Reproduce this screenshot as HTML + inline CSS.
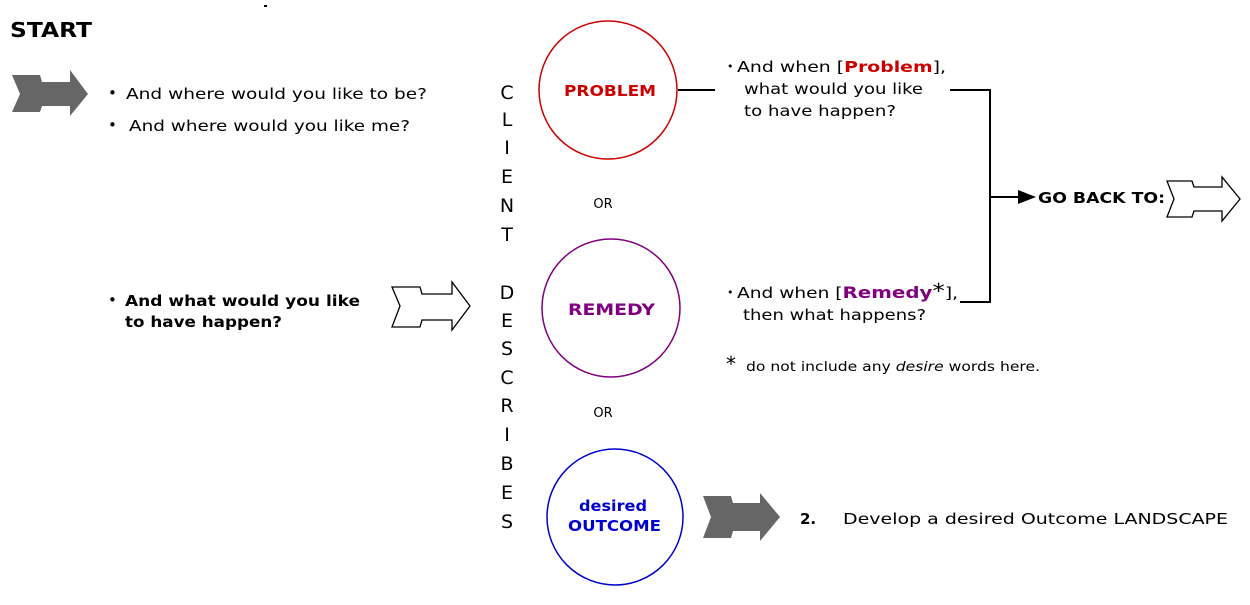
<!DOCTYPE html>
<html><head><meta charset="utf-8"><style>
body{margin:0;background:#fff}
svg text{font-family:"DejaVu Sans","Liberation Sans",sans-serif;font-size:15px;fill:#000}
</style></head><body>
<svg width="1250" height="600" viewBox="0 0 1250 600" xmlns="http://www.w3.org/2000/svg">
<text x="10" y="37" textLength="82" lengthAdjust="spacingAndGlyphs" style="font-family:'DejaVu Sans',sans-serif;font-size:20px;font-weight:bold">START</text>
<rect x="264" y="5" width="3" height="2" fill="#000"/>
<polygon points="12,75 40,75 42,82 70,82 70,70 88,94 70,116 70,106 42,106 40,112 12,112 20,94" fill="#666"/>
<polygon points="703,496 731,496 733,503 760,503 760,493 780,517 760,541 760,531 733,531 731,538 703,538 711,517" fill="#666"/>
<polygon points="392,287 420,287 422,294 452,294 452,282 470,306 452,330 452,320 422,320 420,327 392,327 400,306" fill="#fff" stroke="#000" stroke-width="1.3"/>
<polygon points="1167,181 1192,181 1194,187 1222,187 1222,177 1240,199 1222,221 1222,211 1194,211 1192,217 1167,217 1174,199" fill="#fff" stroke="#000" stroke-width="1.3"/>
<text x="108" y="98">•</text><text x="126" y="99" textLength="301" lengthAdjust="spacingAndGlyphs">And where would you like to be?</text>
<text x="108" y="130">•</text><text x="129" y="131" textLength="281" lengthAdjust="spacingAndGlyphs">And where would you like me?</text>
<text x="108" y="305">•</text><text x="125" y="306" font-weight="bold" textLength="235" lengthAdjust="spacingAndGlyphs">And what would you like</text>
<text x="125" y="327" font-weight="bold" textLength="157" lengthAdjust="spacingAndGlyphs">to have happen?</text>
<g text-anchor="middle">
<text x="507" y="99" style="font-size:19px">C</text><text x="507" y="126" style="font-size:19px">L</text><text x="507" y="154" style="font-size:19px">I</text><text x="507" y="183" style="font-size:19px">E</text><text x="507" y="212" style="font-size:19px">N</text><text x="507" y="241" style="font-size:19px">T</text>
<text x="507" y="299" style="font-size:19px">D</text><text x="507" y="327" style="font-size:19px">E</text><text x="507" y="355" style="font-size:19px">S</text><text x="507" y="384" style="font-size:19px">C</text><text x="507" y="412" style="font-size:19px">R</text><text x="507" y="441" style="font-size:19px">I</text><text x="507" y="470" style="font-size:19px">B</text><text x="507" y="499" style="font-size:19px">E</text><text x="507" y="528" style="font-size:19px">S</text>
</g>
<circle cx="608" cy="90" r="69" fill="none" stroke="#c00" stroke-width="1.5"/>
<circle cx="611" cy="308" r="69" fill="none" stroke="#800080" stroke-width="1.5"/>
<circle cx="615" cy="517" r="68" fill="none" stroke="#00c" stroke-width="1.5"/>
<text x="564" y="96" font-weight="bold" style="fill:#c00" textLength="92" lengthAdjust="spacingAndGlyphs">PROBLEM</text>
<text x="568" y="315" font-weight="bold" style="fill:#800080;font-size:16px" textLength="87" lengthAdjust="spacingAndGlyphs">REMEDY</text>
<text x="579" y="511" font-weight="bold" style="fill:#00c" textLength="68" lengthAdjust="spacingAndGlyphs">desired</text>
<text x="568" y="531" font-weight="bold" style="fill:#00c" textLength="93" lengthAdjust="spacingAndGlyphs">OUTCOME</text>
<text x="603" y="208" text-anchor="middle" style="font-size:13px">OR</text>
<text x="603" y="417" text-anchor="middle" style="font-size:13px">OR</text>
<text x="727" y="70" style="font-size:11px">•</text><text x="737" y="72" textLength="209" lengthAdjust="spacingAndGlyphs">And when [<tspan font-weight="bold" style="fill:#c00">Problem</tspan>],</text>
<text x="744" y="94" textLength="179" lengthAdjust="spacingAndGlyphs">what would you like</text>
<text x="744" y="116" textLength="152" lengthAdjust="spacingAndGlyphs">to have happen?</text>
<text x="727" y="296" style="font-size:11px">•</text><text x="737" y="298" textLength="221" lengthAdjust="spacingAndGlyphs">And when [<tspan font-weight="bold" style="fill:#800080;font-size:16px">Remedy</tspan><tspan style="font-size:20px">*</tspan>],</text>
<text x="743" y="320" textLength="183" lengthAdjust="spacingAndGlyphs">then what happens?</text>
<text x="726" y="371" style="font-size:20px">*</text><text x="746" y="371" style="font-size:13px" textLength="294" lengthAdjust="spacingAndGlyphs">do not include any <tspan font-style="italic">desire</tspan> words here.</text>
<g stroke="#000" stroke-width="2" fill="none">
<line x1="678" y1="90" x2="715" y2="90"/>
<polyline points="950,90 990,90 990,302 960,302"/>
<line x1="990" y1="197" x2="1020" y2="197"/>
</g>
<polygon points="1018,190 1036,197 1018,204" fill="#000"/>
<text x="1038" y="203" font-weight="bold" textLength="127" lengthAdjust="spacingAndGlyphs">GO BACK TO:</text>
<text x="800" y="524" font-weight="bold">2.</text>
<text x="843" y="524" textLength="385" lengthAdjust="spacingAndGlyphs">Develop a desired Outcome LANDSCAPE</text>
</svg>
</body></html>
